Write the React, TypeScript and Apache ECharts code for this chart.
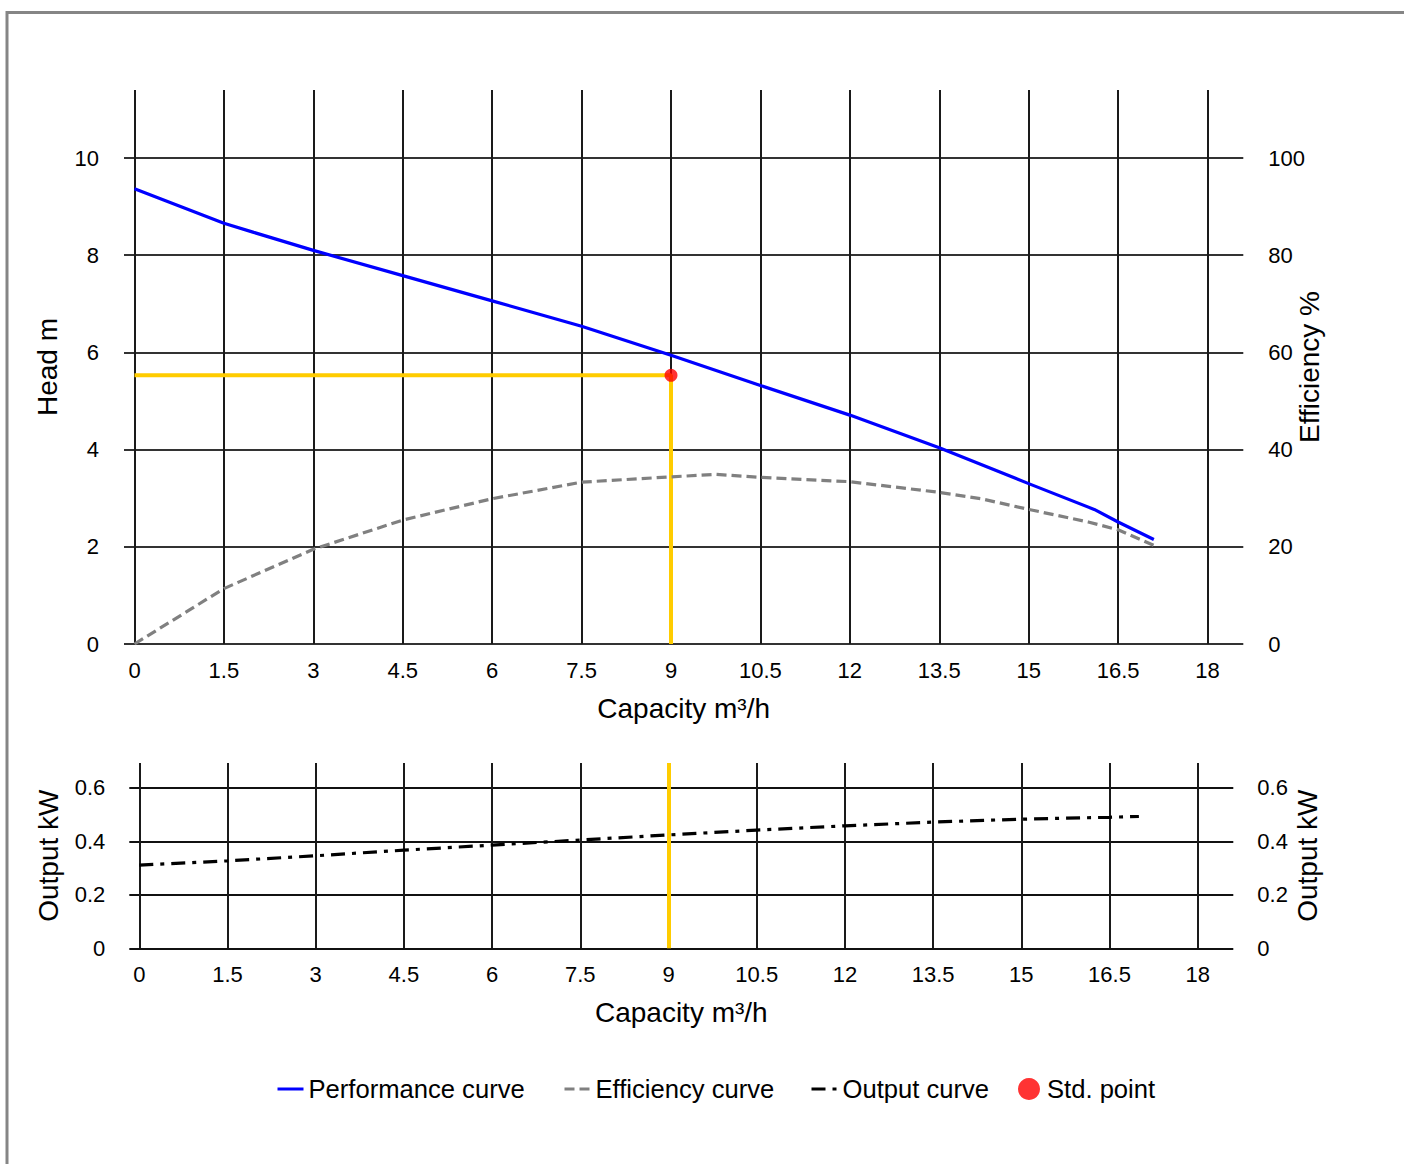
import React, { useEffect, useRef } from "react";
import * as echarts from "echarts";

// ---- data ----
const perfFlow = [0, 1.5, 2.0, 3, 4.5, 6, 7.5, 9, 10.5, 12, 13.5, 15, 16.1, 16.5, 17.1];
const perfHead = [9.37, 8.66, 8.47, 8.1, 7.58, 7.06, 6.54, 5.94, 5.32, 4.71, 4.04, 3.3, 2.77, 2.51, 2.15];

const effFlow = [0, 1.5, 3, 4.5, 6, 7.5, 9, 9.75, 10.5, 12, 13.5, 14.2, 15, 16.0, 16.5, 17.1];
const effValue = [0, 11.4, 19.5, 25.5, 29.9, 33.3, 34.4, 34.9, 34.3, 33.4, 31.2, 29.9, 27.7, 25.1, 23.5, 20.3];

const powerFlow = [0, 1.5, 3, 4.5, 6, 7.5, 9, 10.5, 12, 13.5, 15, 16.5, 17.0];
const powerValue = [0.311, 0.327, 0.346, 0.367, 0.386, 0.405, 0.424, 0.442, 0.458, 0.472, 0.483, 0.49, 0.493];

const stdFlow = 9;
const stdHead = 5.53;

// axis ranges
const capacityMin = 0;
const capacityMax = 18;
const capacityStep = 1.5;
const headMax = 11.4;
const headStep = 2;
const effMax = 114;
const effStep = 20;
const powerMax = 0.693;
const powerStep = 0.2;

const legendNames = ["Performance curve", "Efficiency curve", "Output curve", "Std. point"];
const capacityName = "Capacity m³/h";

const FONT = "'Liberation Sans', Arial, Helvetica, sans-serif";
const LEGEND_LEFTS = [276, 563, 810, 1018];

function pairs(xs: number[], ys: number[]) {
  return xs.map((x, i) => [x, ys[i]]);
}

export default function App() {
  const ref = useRef<HTMLDivElement>(null);

  useEffect(() => {
    const chart = echarts.init(ref.current!, null, { renderer: "svg" });

    const tickLabel = { color: "#000", fontSize: 22, fontFamily: FONT };
    const nameStyle = { color: "#000", fontSize: 28, fontFamily: FONT };
    const hidden = { show: false };

    const legends = legendNames.map((n, i) => ({
      data: [
        i < 3
          ? {
              name: n,
              itemStyle: { opacity: 0, color: "rgba(0,0,0,0)", borderWidth: 0 },
              lineStyle: { width: 3 },
            }
          : { name: n },
      ],
      left: LEGEND_LEFTS[i],
      top: 1076,
      padding: 0,
      itemWidth: 26,
      itemHeight: 22,
      textStyle: { color: "#000", fontSize: 25.6, fontFamily: FONT },
    }));

    const option: any = {
      animation: false,
      backgroundColor: "#fff",
      textStyle: { fontFamily: FONT },
      graphic: [
        {
          type: "rect",
          silent: true,
          z: -10,
          shape: { x: 7, y: 12.5, width: 1600, height: 1400 },
          style: { fill: "none", stroke: "#858585", lineWidth: 3 },
        },
      ],
      legend: legends,
      grid: [
        { left: 124, top: 90, width: 1119.3, height: 554, containLabel: false },
        { left: 134.5, top: 90, width: 1073, height: 554, containLabel: false },
        { left: 129.3, top: 763, width: 1104, height: 185.3, containLabel: false },
        { left: 139.3, top: 763, width: 1058.4, height: 185.3, containLabel: false },
      ],
      xAxis: [
        {
          gridIndex: 0,
          type: "value",
          min: 0,
          max: 1,
          name: capacityName,
          nameLocation: "middle",
          nameGap: 50,
          nameMoveOverlap: false,
          nameTextStyle: nameStyle,
          axisLine: hidden,
          axisTick: hidden,
          axisLabel: hidden,
          splitLine: hidden,
        },
        {
          gridIndex: 1,
          type: "value",
          min: capacityMin,
          max: capacityMax,
          interval: capacityStep,
          axisLine: hidden,
          axisTick: hidden,
          axisLabel: { ...tickLabel, margin: 15 },
          splitLine: { show: true, lineStyle: { color: "#1a1a1a", width: 2 } },
        },
        {
          gridIndex: 2,
          type: "value",
          min: 0,
          max: 1,
          name: capacityName,
          nameLocation: "middle",
          nameGap: 50,
          nameMoveOverlap: false,
          nameTextStyle: nameStyle,
          axisLine: hidden,
          axisTick: hidden,
          axisLabel: hidden,
          splitLine: hidden,
        },
        {
          gridIndex: 3,
          type: "value",
          min: capacityMin,
          max: capacityMax,
          interval: capacityStep,
          axisLine: hidden,
          axisTick: hidden,
          axisLabel: { ...tickLabel, margin: 15 },
          splitLine: { show: true, lineStyle: { color: "#1a1a1a", width: 2 } },
        },
      ],
      yAxis: [
        {
          gridIndex: 0,
          type: "value",
          position: "left",
          min: 0,
          max: headMax,
          interval: headStep,
          name: "Head m",
          nameLocation: "middle",
          nameGap: 63,
          nameMoveOverlap: false,
          nameTextStyle: nameStyle,
          axisLine: hidden,
          axisTick: hidden,
          axisLabel: { ...tickLabel, margin: 25, showMaxLabel: false },
          splitLine: {
            show: true,
            showMaxLine: false,
            lineStyle: {
              color: ["#333", "#333", "#333", "#333", "#333", "#333", "rgba(0,0,0,0)"],
              width: 1.8,
            },
          },
        },
        {
          gridIndex: 0,
          type: "value",
          position: "right",
          min: 0,
          max: effMax,
          interval: effStep,
          name: "Efficiency %",
          nameLocation: "middle",
          nameGap: 52,
          nameMoveOverlap: false,
          nameTextStyle: nameStyle,
          axisLine: hidden,
          axisTick: hidden,
          axisLabel: { ...tickLabel, margin: 25, showMaxLabel: false },
          splitLine: hidden,
        },
        { gridIndex: 1, type: "value", position: "left", min: 0, max: headMax, show: false },
        { gridIndex: 1, type: "value", position: "right", min: 0, max: effMax, show: false },
        {
          gridIndex: 2,
          type: "value",
          position: "left",
          min: 0,
          max: powerMax,
          interval: powerStep,
          name: "Output kW",
          nameLocation: "middle",
          nameGap: 67,
          nameMoveOverlap: false,
          nameTextStyle: nameStyle,
          axisLine: hidden,
          axisTick: hidden,
          axisLabel: { ...tickLabel, margin: 24, showMaxLabel: false },
          splitLine: {
            show: true,
            showMaxLine: false,
            lineStyle: {
              color: ["#111", "#111", "#111", "#111", "rgba(0,0,0,0)"],
              width: 2,
            },
          },
        },
        {
          gridIndex: 2,
          type: "value",
          position: "right",
          min: 0,
          max: powerMax,
          interval: powerStep,
          name: "Output kW",
          nameLocation: "middle",
          nameGap: 60,
          nameMoveOverlap: false,
          nameTextStyle: nameStyle,
          axisLine: hidden,
          axisTick: hidden,
          axisLabel: { ...tickLabel, margin: 24, showMaxLabel: false },
          splitLine: hidden,
        },
        { gridIndex: 3, type: "value", position: "left", min: 0, max: powerMax, show: false },
      ],
      series: [
        {
          name: "stdGuide",
          type: "line",
          xAxisIndex: 1,
          yAxisIndex: 2,
          silent: true,
          symbol: "none",
          z: 2,
          data: [
            [capacityMin, stdHead],
            [stdFlow, stdHead],
            [stdFlow, 0],
          ],
          lineStyle: { color: "#ffcc00", width: 4 },
          itemStyle: { color: "#ffcc00" },
        },
        {
          name: "Performance curve",
          type: "line",
          xAxisIndex: 1,
          yAxisIndex: 2,
          symbol: "none",
          z: 3,
          data: pairs(perfFlow, perfHead),
          lineStyle: { color: "#0000ff", width: 3.2 },
          itemStyle: { color: "#0000ff" },
        },
        {
          name: "Efficiency curve",
          type: "line",
          xAxisIndex: 1,
          yAxisIndex: 3,
          symbol: "none",
          z: 3,
          data: pairs(effFlow, effValue),
          lineStyle: { color: "#808080", width: 3.2, type: [10, 5] },
          itemStyle: { color: "#808080" },
        },
        {
          name: "Output curve",
          type: "line",
          xAxisIndex: 3,
          yAxisIndex: 6,
          symbol: "none",
          z: 3,
          data: pairs(powerFlow, powerValue),
          lineStyle: { color: "#000", width: 3.2, type: [14, 7, 4, 7] },
          itemStyle: { color: "#000" },
          markLine: {
            silent: true,
            symbol: ["none", "none"],
            label: { show: false },
            lineStyle: { color: "#ffcc00", width: 4, type: "solid" },
            data: [{ xAxis: stdFlow }],
            z: 2,
          },
        },
        {
          name: "Std. point",
          type: "scatter",
          xAxisIndex: 1,
          yAxisIndex: 2,
          symbol: "circle",
          symbolSize: 13,
          z: 5,
          data: [[stdFlow, stdHead]],
          itemStyle: { color: "#ff0000" },
        },
      ],
    };

    chart.setOption(option);
    return () => chart.dispose();
  }, []);

  return (
    <div
      ref={ref}
      style={{ position: "absolute", left: 0, top: 0, width: 1404, height: 1164, background: "#fff" }}
    />
  );
}
